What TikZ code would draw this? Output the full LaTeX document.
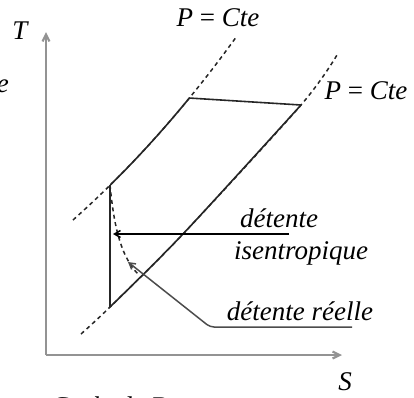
\documentclass[tikz,border=0pt]{standalone}
\usepackage{fontspec}
\setmainfont{Liberation Serif}
\usetikzlibrary{arrows.meta}
\begin{document}
\begin{tikzpicture}[x=1pt,y=-1pt,
  lbl/.style={font=\fontsize{27}{32}\selectfont\itshape, inner sep=0pt},
  axis/.style={draw=gray!85, line width=2.2pt, -{Straight Barb[length=7pt,width=7pt]}},
  cyc/.style={draw=black!85, line width=1.6pt},
  iso/.style={draw=black!85, line width=1.5pt, dash pattern=on 4pt off 3.5pt},
  ptr/.style={draw=black, line width=1.5pt, -{Straight Barb[length=6pt,width=7pt]}},
  ptrg/.style={draw=black!70, line width=1.5pt, -{Straight Barb[length=6pt,width=7pt]}, rounded corners=4pt}]
\useasboundingbox (0,0) rectangle (414,397);
% axes
\coordinate (O) at (46,355);
\coordinate (Ty) at (46,32);
\coordinate (Sx) at (342,355);
\draw[axis] (O) -- (Ty);
\draw[axis] (O) -- (Sx);
\node[lbl] (T) at (20,31) {T};
\node[lbl] (S) at (345,382) {S};
% cycle points
\coordinate (A) at (110,307);
\coordinate (B) at (110,185);
\coordinate (C) at (189,98);
\coordinate (D) at (301,105);
\coordinate (E) at (139,275);
\coordinate (M) at (183,234);
% isobars
\coordinate (R1) at (81,334);
\coordinate (R2) at (337,55);
\draw[iso] plot[domain=220:37, samples=40, variable=\t] ({73+370*ln((550-\t)/330)}, \t);
\draw[iso] plot[smooth, tension=0.5] coordinates {(R1) (A) (M) (D) (R2)};
% cycle
\draw[cyc] (A) -- (B);
\draw[cyc] plot[domain=185:98, samples=30, variable=\t] ({73+370*ln((550-\t)/330)}, \t);
\draw[cyc] (C) -- (D);
\draw[cyc] plot[smooth, tension=0.5] coordinates {(A) (M) (D)};
\draw[iso] (B) .. controls (113,215) and (118,255) .. (E);
% labels
\node[lbl] (P1) at (218,18) {P {\upshape=} Cte};
\node[lbl] (P2) at (366,91) {P {\upshape=} Cte};
\node[lbl] (d1) at (279,218) {détente};
\node[lbl] (d2) at (301,253) {isentropique};
\node[lbl] (d3) at (300,311) {détente réelle};
\node[lbl, anchor=east] (ee) at (9,86) {e};
\node[lbl, anchor=north west] (cap) at (50,397) {Cycle de Brayton};
% pointers
\coordinate (h1) at (289,234);
\coordinate (h2) at (113,234);
\draw[ptr] (h1) -- (h2);
\coordinate (g1) at (352,327);
\coordinate (g2) at (210,327);
\coordinate (g3) at (128,262);
\draw[ptrg] (g1) -- (g2) -- (g3);
\end{tikzpicture}
\end{document}
